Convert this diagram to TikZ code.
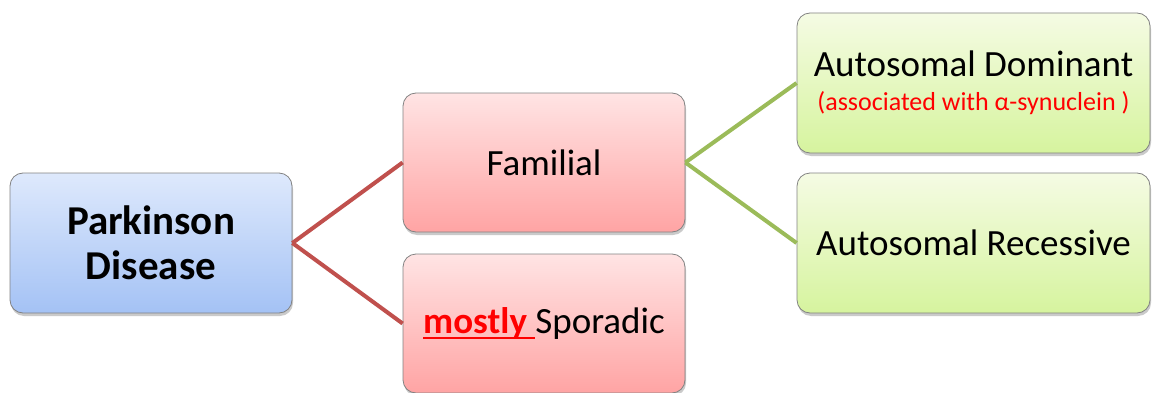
\documentclass[tikz,border=0pt]{standalone}
\usepackage{fontspec}
\setmainfont{Carlito}
\usetikzlibrary{shadows}
\definecolor{linkred}{RGB}{192,80,77}
\definecolor{linkgreen}{RGB}{155,187,89}
\definecolor{edgegray}{RGB}{130,130,130}
\definecolor{bluetop}{RGB}{222,233,252}
\definecolor{bluebot}{RGB}{164,194,245}
\definecolor{pinktop}{RGB}{255,228,228}
\definecolor{pinkbot}{RGB}{255,164,164}
\definecolor{greentop}{RGB}{245,251,228}
\definecolor{greenbot}{RGB}{214,244,158}
\definecolor{notered}{RGB}{255,0,0}
% red bold word with an underline of the same colour
\newcommand\redmark[1]{{\color{notered}\bfseries\setbox0\hbox{#1}%
  \rlap{\rule[-5pt]{\wd0}{2pt}}\box0}}
\tikzset{
  box/.style={draw=edgegray, line width=0.8pt, rounded corners=13pt,
    align=center, inner sep=0pt,
    drop shadow={shadow xshift=1pt, shadow yshift=-3pt, opacity=0.35, fill=black!60}},
  rootbox/.style={box, top color=bluetop, bottom color=bluebot,
    minimum width=282pt, minimum height=140pt,
    font=\fontsize{41}{45}\selectfont\bfseries},
  midbox/.style={box, top color=pinktop, bottom color=pinkbot,
    minimum width=282pt, minimum height=139pt,
    font=\fontsize{37}{42}\selectfont},
  leafbox/.style={box, top color=greentop, bottom color=greenbot,
    minimum width=353pt, minimum height=140pt,
    font=\fontsize{37}{42}\selectfont},
  redlink/.style={draw=linkred, line width=4pt},
  greenlink/.style={draw=linkgreen, line width=4pt}
}
\begin{document}
\begin{tikzpicture}[x=1pt,y=1pt]
  \useasboundingbox (0,0) rectangle (1152,392);
  % root
  \node[rootbox] (pd) at (151,149) {Parkinson\\Disease};
  % second level
  \node[midbox] (fam) at (544,229.5) {Familial};
  \node[midbox] (spo) at (544,68.5) {\redmark{mostly }Sporadic};
  % third level
  \node[leafbox] (ad) at (973.5,309) {Autosomal Dominant\\[-8pt]
    {\fontsize{26}{28}\selectfont\color{notered}(associated with α-synuclein )}};
  \node[leafbox] (ar) at (973.5,149) {Autosomal Recessive};
  % connectors
  \draw[redlink] (pd.east) -- (fam.west);
  \draw[redlink] (pd.east) -- (spo.west);
  \draw[greenlink] (fam.east) -- (ad.west);
  \draw[greenlink] (fam.east) -- (ar.west);
\end{tikzpicture}
\end{document}
